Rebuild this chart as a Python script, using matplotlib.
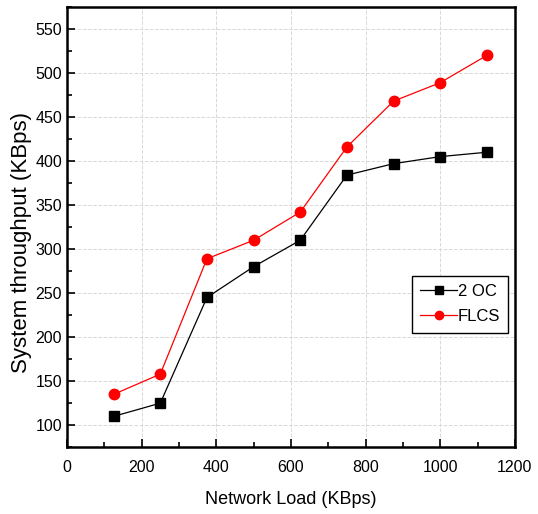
import matplotlib.pyplot as plt
from matplotlib.ticker import MultipleLocator

plt.rcParams['font.family'] = ['Liberation Sans', 'DejaVu Sans']

load = [125, 250, 375, 500, 625, 750, 875, 1000, 1125]
oc2 = [110, 125, 245, 280, 310, 384, 397, 405, 410]
flcs = [135, 158, 289, 310, 342, 416, 468, 489, 520]


def main():
    fig = plt.figure(figsize=(5.38, 5.14), dpi=100)
    ax = fig.add_axes([0.1245, 0.130, 0.8325, 0.8565])

    ax.plot(load, oc2, color='black', linewidth=0.9, marker='s', markersize=6.5, label='2 OC')
    ax.plot(load, flcs, color='red', linewidth=0.9, marker='o', markersize=7.5, label='FLCS')

    ax.set_xlim(0, 1200)
    ax.set_ylim(75, 575)
    ax.xaxis.set_major_locator(MultipleLocator(200))
    ax.xaxis.set_minor_locator(MultipleLocator(100))
    ax.yaxis.set_minor_locator(MultipleLocator(25))
    ax.set_yticks(range(100, 551, 50))
    ax.tick_params(which='both', direction='in', labelsize=11.5, width=1.2)
    ax.tick_params(which='major', length=6)
    ax.tick_params(which='minor', length=3.5)
    ax.tick_params(axis='x', pad=9)
    ax.grid(True, which='major', color='#d8d8d8', linestyle='--', linewidth=0.7)
    for s in ax.spines.values():
        s.set_linewidth(1.8)

    ax.set_xlabel('Network Load (KBps)', fontsize=13, labelpad=12)
    ax.set_ylabel('System throughput (KBps)', fontsize=16)
    ax.yaxis.set_label_coords(-0.078, 0.464)

    leg = ax.legend(loc='upper left', bbox_to_anchor=(0.77, 0.389), borderaxespad=0,
                    fontsize=12, fancybox=False, framealpha=1, edgecolor='black',
                    handlelength=2.2, handletextpad=0.05, borderpad=0.5, labelspacing=0.6,
                    markerscale=0.8)
    leg.get_frame().set_linewidth(1.0)

    fig.savefig('out.png', dpi=100)


if __name__ == "__main__":
    main()
